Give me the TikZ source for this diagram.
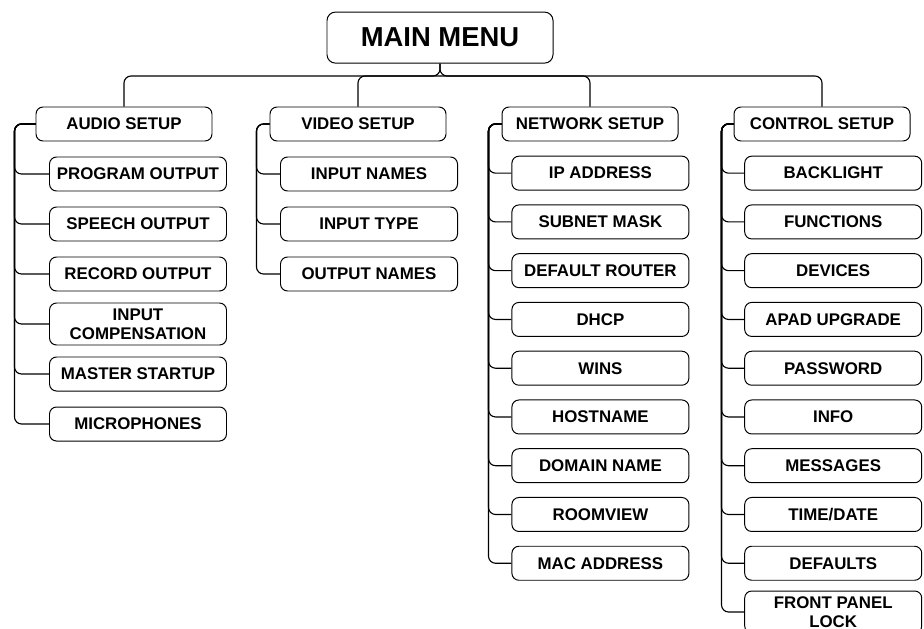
\documentclass[tikz,border=0pt]{standalone}
\usepackage{fontspec}
\setmainfont{Liberation Sans}
\usetikzlibrary{positioning,calc}
\tikzset{
  link/.style={draw=black,line width=0.8pt,rounded corners=5pt},
  head/.style={draw,rounded corners=6pt,line width=0.7pt,minimum width=56.5mm,
    minimum height=12.75mm,font=\fontsize{19.5}{22}\selectfont\bfseries},
  menu/.style={draw,rounded corners=5pt,line width=0.7pt,minimum width=44mm,
    minimum height=8.5mm,inner sep=1pt,align=center,font=\fontsize{12}{13.5}\selectfont\bfseries},
  item/.style={menu,minimum width=44.25mm,minimum height=#1},
  item/.default=8.5mm,
}
\begin{document}
\begin{tikzpicture}
  \useasboundingbox (0,0) rectangle (23.1,-15.7);
  \node[head] (main) at (11,-0.94) {MAIN MENU};
  \coordinate (bus) at (11,-1.9);
  % first level
  \node[menu] (audio) at (3.1,-3.1) {AUDIO SETUP};
  \node[menu] (video) at (8.95,-3.1) {VIDEO SETUP};
  \node[menu] (network) at (14.75,-3.1) {NETWORK SETUP};
  \node[menu] (control) at (20.55,-3.1) {CONTROL SETUP};
  \draw[link] (main.south) |- (bus -| audio.north) -- (audio.north);
  \draw[link] (main.south) |- (bus -| control.north) -- (control.north);
  \draw[link] (video.north) |- (bus);
  \draw[link] (network.north) |- (bus);
  % audio
  \foreach \t/\h [count=\i] in {PROGRAM OUTPUT/8.5mm,SPEECH OUTPUT/8.5mm,RECORD OUTPUT/8.5mm,
    {INPUT\\COMPENSATION}/10.5mm,MASTER STARTUP/8.5mm,MICROPHONES/8.5mm}{
    \node[item=\h] (a\i) at (3.45,{-3.1-1.25*\i}) {\t};
    \draw[link] (audio.west) -- ++(-0.525,0) |- (a\i.west);
  }
  % video
  \foreach \t [count=\i] in {INPUT NAMES,INPUT TYPE,OUTPUT NAMES}{
    \node[item] (v\i) at (9.225,{-3.1-1.25*\i}) {\t};
    \draw[link] (video.west) -- ++(-0.325,0) |- (v\i.west);
  }
  % network
  \foreach \t [count=\i] in {IP ADDRESS,SUBNET MASK,DEFAULT ROUTER,DHCP,WINS,
    HOSTNAME,DOMAIN NAME,ROOMVIEW,MAC ADDRESS}{
    \node[item] (n\i) at (15.01,{-3.11-1.219*\i}) {\t};
    \draw[link] (network.west) -- ++(-0.325,0) |- (n\i.west);
  }
  % control
  \foreach \t/\h [count=\i] in {BACKLIGHT/8.5mm,FUNCTIONS/8.5mm,DEVICES/8.5mm,APAD UPGRADE/8.5mm,
    PASSWORD/8.5mm,INFO/8.5mm,MESSAGES/8.5mm,{TIME/DATE}/8.5mm,DEFAULTS/8.5mm,{FRONT PANEL\\LOCK}/10.5mm}{
    \node[item=\h] (c\i) at (20.83,{-3.11-1.219*\i}) {\t};
    \draw[link] (control.west) -- ++(-0.3,0) |- (c\i.west);
  }
\end{tikzpicture}
\end{document}
